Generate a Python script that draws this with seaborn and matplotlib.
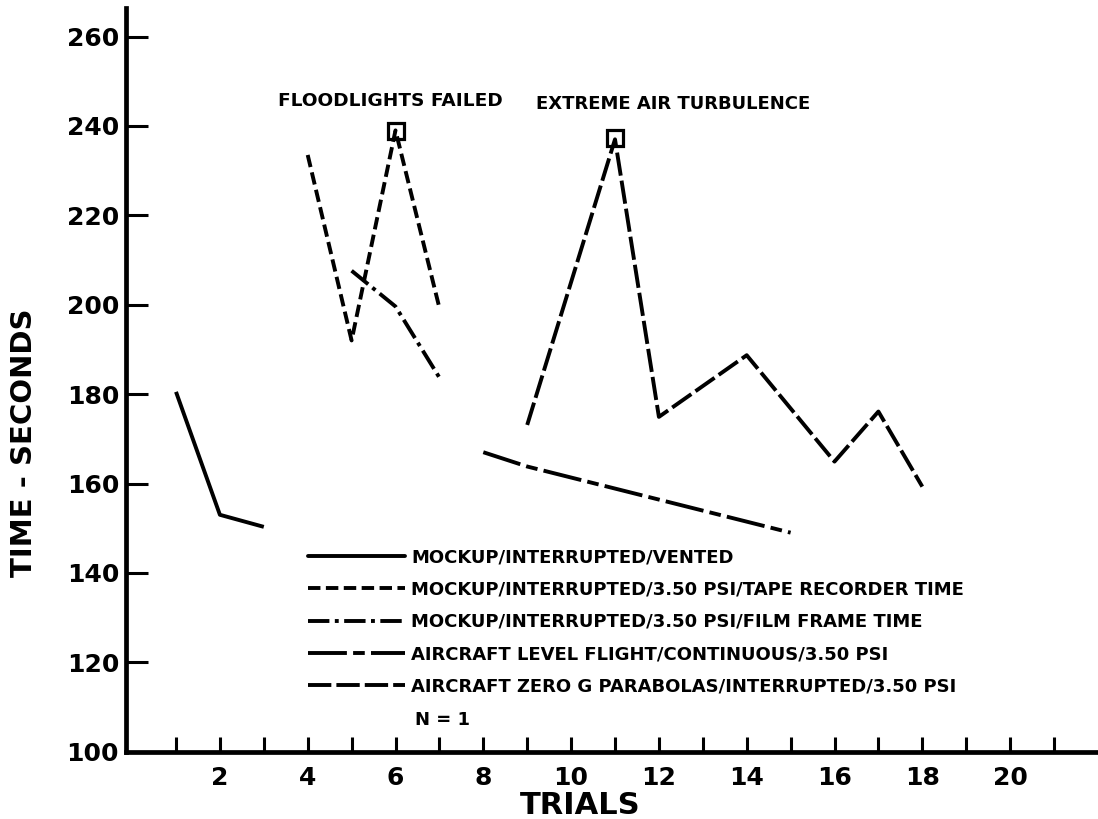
import matplotlib
matplotlib.use("Agg")
import matplotlib.pyplot as plt
from matplotlib.lines import Line2D
import numpy as np
import pandas as pd
import seaborn as sns

# ---------------- data ----------------
series_labels = [
    "MOCKUP/INTERRUPTED/VENTED",
    "MOCKUP/INTERRUPTED/3.50 PSI/TAPE RECORDER TIME",
    "MOCKUP/INTERRUPTED/3.50 PSI/FILM FRAME TIME",
    "AIRCRAFT LEVEL FLIGHT/CONTINUOUS/3.50 PSI",
    "AIRCRAFT ZERO G PARABOLAS/INTERRUPTED/3.50 PSI",
]
vented_trials = [1, 2, 3]
vented_time = [180.5, 153.0, 150.3]
tape_trials = [4, 5, 6, 7]
tape_time = [233.5, 192.0, 239.0, 199.3]
film_trials = [5, 6, 7]
film_time = [207.6, 199.6, 183.7]
level_trials = [8, 9, 15]
level_time = [167.0, 163.8, 149.0]
zerog_trials = [9, 11, 12, 14, 16, 17, 18]
zerog_time = [173.1, 237.0, 174.9, 188.7, 164.9, 176.1, 159.3]

event_trials = [6, 11]
event_time = [238.8, 237.3]
event_labels = ["FLOODLIGHTS FAILED", "EXTREME AIR TURBULENCE"]

y_ticks = [100, 120, 140, 160, 180, 200, 220, 240, 260]
x_ticks = list(range(1, 22))
x_tick_labels = ["", "2", "", "4", "", "6", "", "8", "", "10", "", "12", "",
                 "14", "", "16", "", "18", "", "20", ""]
note_text = "N = 1"
x_label = "TRIALS"
y_label = "TIME - SECONDS"

# ---------------- styling ----------------
sns.set_style("ticks")
plt.rcParams["font.family"] = ["DejaVu Sans"]
plt.rcParams["font.weight"] = "bold"
for key in ["text.color", "axes.labelcolor", "xtick.color", "ytick.color", "axes.edgecolor"]:
    plt.rcParams[key] = "black"

dash_styles = {
    series_labels[0]: "",
    series_labels[1]: (3.2, 1.4),
    series_labels[2]: (5.5, 1.4, 1.0, 1.4),
    series_labels[3]: (10, 1.6, 3, 1.6),
    series_labels[4]: (6, 1.3),
}
LW = 2.8

frames = []
for lab, xs, ys in zip(series_labels,
                       [vented_trials, tape_trials, film_trials, level_trials, zerog_trials],
                       [vented_time, tape_time, film_time, level_time, zerog_time]):
    frames.append(pd.DataFrame({"trial": xs, "time": ys, "series": lab}))
df = pd.concat(frames, ignore_index=True)

W, H = 1098, 819
fig = plt.figure(figsize=(W / 100, H / 100), dpi=100)
ax_left, ax_right, ax_bottom_px, ax_top_px = 126, 1096, 751.7, 8
ax_w_px = ax_right - ax_left
ax_h_px = ax_bottom_px - ax_top_px
ax = fig.add_axes([ax_left / W, (H - ax_bottom_px) / H, ax_w_px / W, ax_h_px / H])

sns.lineplot(data=df, x="trial", y="time", style="series", style_order=series_labels,
             dashes=dash_styles, color="black", linewidth=LW, estimator=None,
             sort=False, legend=False, ax=ax)
for ln in ax.lines:
    ln.set_solid_capstyle("butt")
    ln.set_dash_capstyle("butt")

ax.plot(event_trials, event_time, linestyle="none", marker="s", markersize=11,
        markerfacecolor="none", markeredgecolor="black", markeredgewidth=2.3)

# axes
px_per_trial = 43.9
x0_px = 132.1
ax.set_xlim((ax_left - x0_px) / px_per_trial, (ax_right - x0_px) / px_per_trial)
px_per_sec = 4.47
ax.set_ylim(100, 100 + ax_h_px / px_per_sec)

ax.set_xticks(x_ticks)
ax.set_xticklabels(x_tick_labels, fontsize=18, fontweight="bold")
ax.set_yticks(y_ticks)
ax.set_yticklabels([str(v) for v in y_ticks], fontsize=18, fontweight="bold")
ax.tick_params(axis="x", direction="in", length=11, width=2.2, pad=10, color="black")
ax.tick_params(axis="y", direction="in", length=16, width=2.2, pad=5, color="black")

for side in ["top", "right"]:
    ax.spines[side].set_visible(False)
for side in ["left", "bottom"]:
    ax.spines[side].set_linewidth(3.4)
    ax.spines[side].set_color("black")

ax.set_xlabel(x_label, fontsize=22, fontweight="bold")
ax.xaxis.set_label_coords((580 - ax_left) / ax_w_px, (ax_bottom_px - 806) / ax_h_px)
ax.xaxis.label.set_va("center")
ax.set_ylabel(y_label, fontsize=21, fontweight="bold")
ax.yaxis.set_label_coords((24 - ax_left) / ax_w_px, (ax_bottom_px - 443) / ax_h_px)
ax.yaxis.label.set_va("center")

# legend
handles = [Line2D([0], [0], color="black", linewidth=LW,
                  linestyle=((0, dash_styles[l]) if dash_styles[l] else "-"))
           for l in series_labels]
for h in handles:
    h.set_dash_capstyle("butt")
leg = ax.legend(handles, series_labels, loc="upper left",
                bbox_to_anchor=(308 / W, 1 - 548 / H), bbox_transform=fig.transFigure,
                frameon=False, fontsize=13, handlelength=5.37, handletextpad=0.33,
                labelspacing=0.8, borderpad=0, borderaxespad=0)
for t in leg.get_texts():
    t.set_fontweight("bold")
    t.set_color("black")

fig.text(415 / W, 1 - 720 / H, note_text, fontsize=13, fontweight="bold",
         ha="left", va="center")

# event annotations
fig.text(390 / W, 1 - 101 / H, event_labels[0], fontsize=13.3, fontweight="bold",
         ha="center", va="center")
fig.text(673 / W, 1 - 104 / H, event_labels[1], fontsize=13, fontweight="bold",
         ha="center", va="center")

fig.savefig("out.png", dpi=100)
